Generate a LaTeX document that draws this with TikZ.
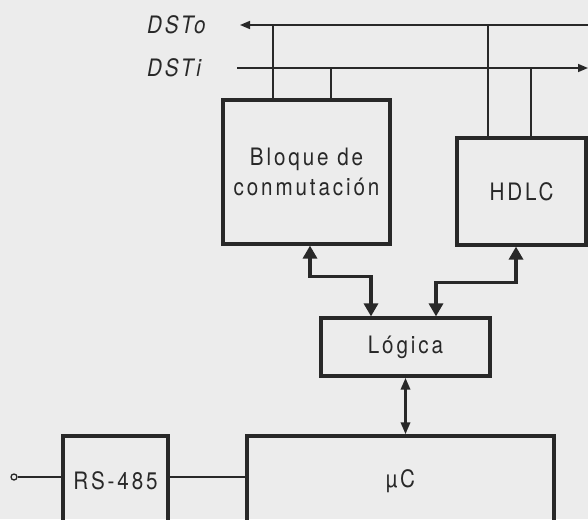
\documentclass[tikz,border=0pt]{standalone}
\usepackage{fontspec}
\setmainfont{TeX Gyre Heros}
\newfontfamily\blockfont[LetterSpace=12,FakeStretch=0.86]{TeX Gyre Heros}
\usetikzlibrary{arrows.meta, positioning, calc}
\definecolor{paper}{RGB}{236,236,236}
\definecolor{ink}{RGB}{40,40,40}

\begin{document}
\begin{tikzpicture}[x=1pt, y=-1pt,
    block/.style={draw=ink, line width=3.2pt, inner sep=0pt, align=center,
                  text=ink, font=\blockfont\fontsize{24}{30}\selectfont},
    bus/.style={draw=ink, line width=1.6pt},
    link/.style={draw=ink, line width=3.2pt,
                 {Triangle[length=13pt,width=14pt]}-{Triangle[length=13pt,width=14pt]}},
    buslabel/.style={text=ink, inner sep=0pt, anchor=west,
                     font=\blockfont\itshape\fontsize{24}{25}\selectfont},
    terminal/.style={circle, draw=ink, line width=1.3pt, minimum size=6pt, inner sep=0pt}
]
    \useasboundingbox (0,0) rectangle (588,519);
    \fill[paper] (0,0) rectangle (588,519);
    \clip (0,0) rectangle (588,519);

    \node[block, minimum width=167pt, minimum height=144pt] (switch) at (306.5,172) {Bloque de\\conmutación};
    \node[block, minimum width=129pt, minimum height=107pt] (hdlc) at (521.5,191.5) {HDLC};
    \node[block, minimum width=169pt, minimum height=58pt] (logic) at (405.5,347) {Lógica};
    \node[block, minimum width=307pt, minimum height=90pt] (uc) at (400.5,481) {µC};
    \node[block, minimum width=105pt, minimum height=90pt] (rs) at (115.5,481) {RS-485};
    \node[terminal] (port) at (14,477) {};

    \node[buslabel] (dsto) at (147,25) {DSTo};
    \node[buslabel] (dsti) at (147,68) {DSTi};
    \coordinate (dstoL) at (240,25);
    \coordinate (dstoR) at (588,25);
    \coordinate (dstiL) at (237,68);
    \coordinate (dstiR) at (588,68);

    \draw[bus, -{Triangle[length=10pt,width=8pt]}] (dstoR) -- (dstoL);
    \draw[bus, -{Triangle[length=10pt,width=8pt]}] (dstiL) -- (dstiR);

    \draw[bus] ([xshift=-33.5pt]switch.north) -- ([xshift=-33.5pt]switch.north |- dstoR);
    \draw[bus] ([xshift=24.5pt]switch.north) -- ([xshift=24.5pt]switch.north |- dstiR);
    \draw[bus] ([xshift=-33.5pt]hdlc.north) -- ([xshift=-33.5pt]hdlc.north |- dstoR);
    \draw[bus] ([xshift=9.5pt]hdlc.north) -- ([xshift=9.5pt]hdlc.north |- dstiR);

    \draw[link] ([xshift=3.5pt]switch.south) -- ++(0,31) -| ([xshift=-34.5pt]logic.north);
    \draw[link] ([xshift=-5.5pt]hdlc.south) -- ++(0,36) -| ([xshift=30.5pt]logic.north);
    \draw[link, {Triangle[length=12pt,width=9pt]}-{Triangle[length=12pt,width=9pt]}]
        (logic.south) -- (logic.south |- uc.north);

    \draw[bus] (port) -- (port -| rs.west);
    \draw[bus] ([yshift=4pt]rs.east) -- ([yshift=4pt]rs.east -| uc.west);
\end{tikzpicture}
\end{document}
